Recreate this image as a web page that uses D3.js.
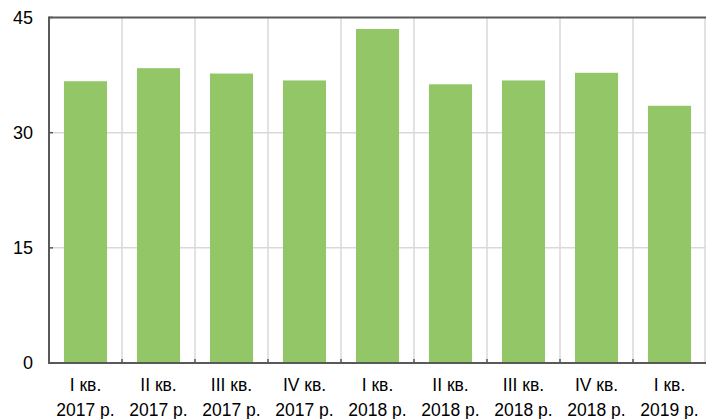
<!DOCTYPE html>
<html>
<head>
<meta charset="utf-8">
<script src="https://cdn.jsdelivr.net/npm/d3@7"></script>
<style>
  html, body { margin: 0; padding: 0; background: #fff; }
  text { font-family: Arial, "Liberation Sans", sans-serif; fill: #000; }
</style>
</head>
<body>
<svg id="chart" width="706" height="419"></svg>
<script>
// Quarterly values
const quarters = ["I кв.", "II кв.", "III кв.", "IV кв.", "I кв.", "II кв.", "III кв.", "IV кв.", "I кв."];
const years = ["2017 р.", "2017 р.", "2017 р.", "2017 р.", "2018 р.", "2018 р.", "2018 р.", "2018 р.", "2019 р."];
const values = [36.7, 38.4, 37.7, 36.8, 43.5, 36.3, 36.8, 37.8, 33.5];
const yTicks = [0, 15, 30, 45];

const svg = d3.select("#chart");
const margin = { left: 49, right: 0, top: 17.5, bottom: 56 };
const W = 706, H = 419;
const x0 = margin.left, x1 = W - margin.right;
const y0 = H - margin.bottom, y1 = margin.top;

const keys = d3.range(values.length);
const x = d3.scaleBand().domain(keys).range([x0, x1]).paddingInner(0.41).paddingOuter(0.205);
const xb = d3.scaleBand().domain(keys).range([x0, x1]);
const y = d3.scaleLinear().domain([0, 45]).range([y0, y1]);

// horizontal gridlines
svg.append("g").selectAll("line").data(yTicks.filter(t => t > 0 && t < 45)).join("line")
  .attr("x1", x0).attr("x2", x1)
  .attr("y1", d => y(d)).attr("y2", d => y(d))
  .attr("stroke", "#d9d9d9").attr("stroke-width", 1.5);

// vertical gridlines between quarters
svg.append("g").selectAll("line").data(keys.slice(1).concat([values.length])).join("line")
  .attr("x1", d => d < values.length ? xb(d) : x1 - 1)
  .attr("x2", d => d < values.length ? xb(d) : x1 - 1)
  .attr("y1", y1).attr("y2", y0)
  .attr("stroke", "#d9d9d9").attr("stroke-width", 1.5);

// bars
svg.append("g").selectAll("rect").data(values).join("rect")
  .attr("x", (d, i) => x(i))
  .attr("width", x.bandwidth())
  .attr("y", d => y(d))
  .attr("height", d => y(0) - y(d))
  .attr("fill", "#92c667");

// frame: top and left sides, bottom axis
svg.append("line").attr("x1", x0).attr("x2", x1).attr("y1", y1).attr("y2", y1)
  .attr("stroke", "#595959").attr("stroke-width", 2);
svg.append("line").attr("x1", x0).attr("x2", x0).attr("y1", y1 - 1).attr("y2", y0 + 1)
  .attr("stroke", "#595959").attr("stroke-width", 2);
svg.append("line").attr("x1", x0).attr("x2", x1).attr("y1", y0).attr("y2", y0)
  .attr("stroke", "#595959").attr("stroke-width", 2);

// small ticks on axes
svg.append("g").selectAll("line").data(keys.slice(1)).join("line")
  .attr("x1", d => xb(d)).attr("x2", d => xb(d))
  .attr("y1", y0).attr("y2", y0 - 4)
  .attr("stroke", "#595959").attr("stroke-width", 1.5);
svg.append("g").selectAll("line").data(yTicks).join("line")
  .attr("x1", x0).attr("x2", x0 + 4)
  .attr("y1", d => y(d)).attr("y2", d => y(d))
  .attr("stroke", "#595959").attr("stroke-width", 1.5);

// y tick labels
svg.append("g").selectAll("text").data(yTicks).join("text")
  .attr("x", 33).attr("y", d => y(d) + 6)
  .attr("text-anchor", "end").attr("font-size", 18)
  .text(d => d);

// category labels (two lines)
const lab = svg.append("g").selectAll("text").data(keys).join("text")
  .attr("text-anchor", "middle").attr("font-size", 17.5);
lab.append("tspan").attr("x", d => xb(d) + xb.bandwidth() / 2).attr("y", 391).text(d => quarters[d]);
lab.append("tspan").attr("x", d => xb(d) + xb.bandwidth() / 2).attr("y", 416).text(d => years[d]);
</script>
</body>
</html>
